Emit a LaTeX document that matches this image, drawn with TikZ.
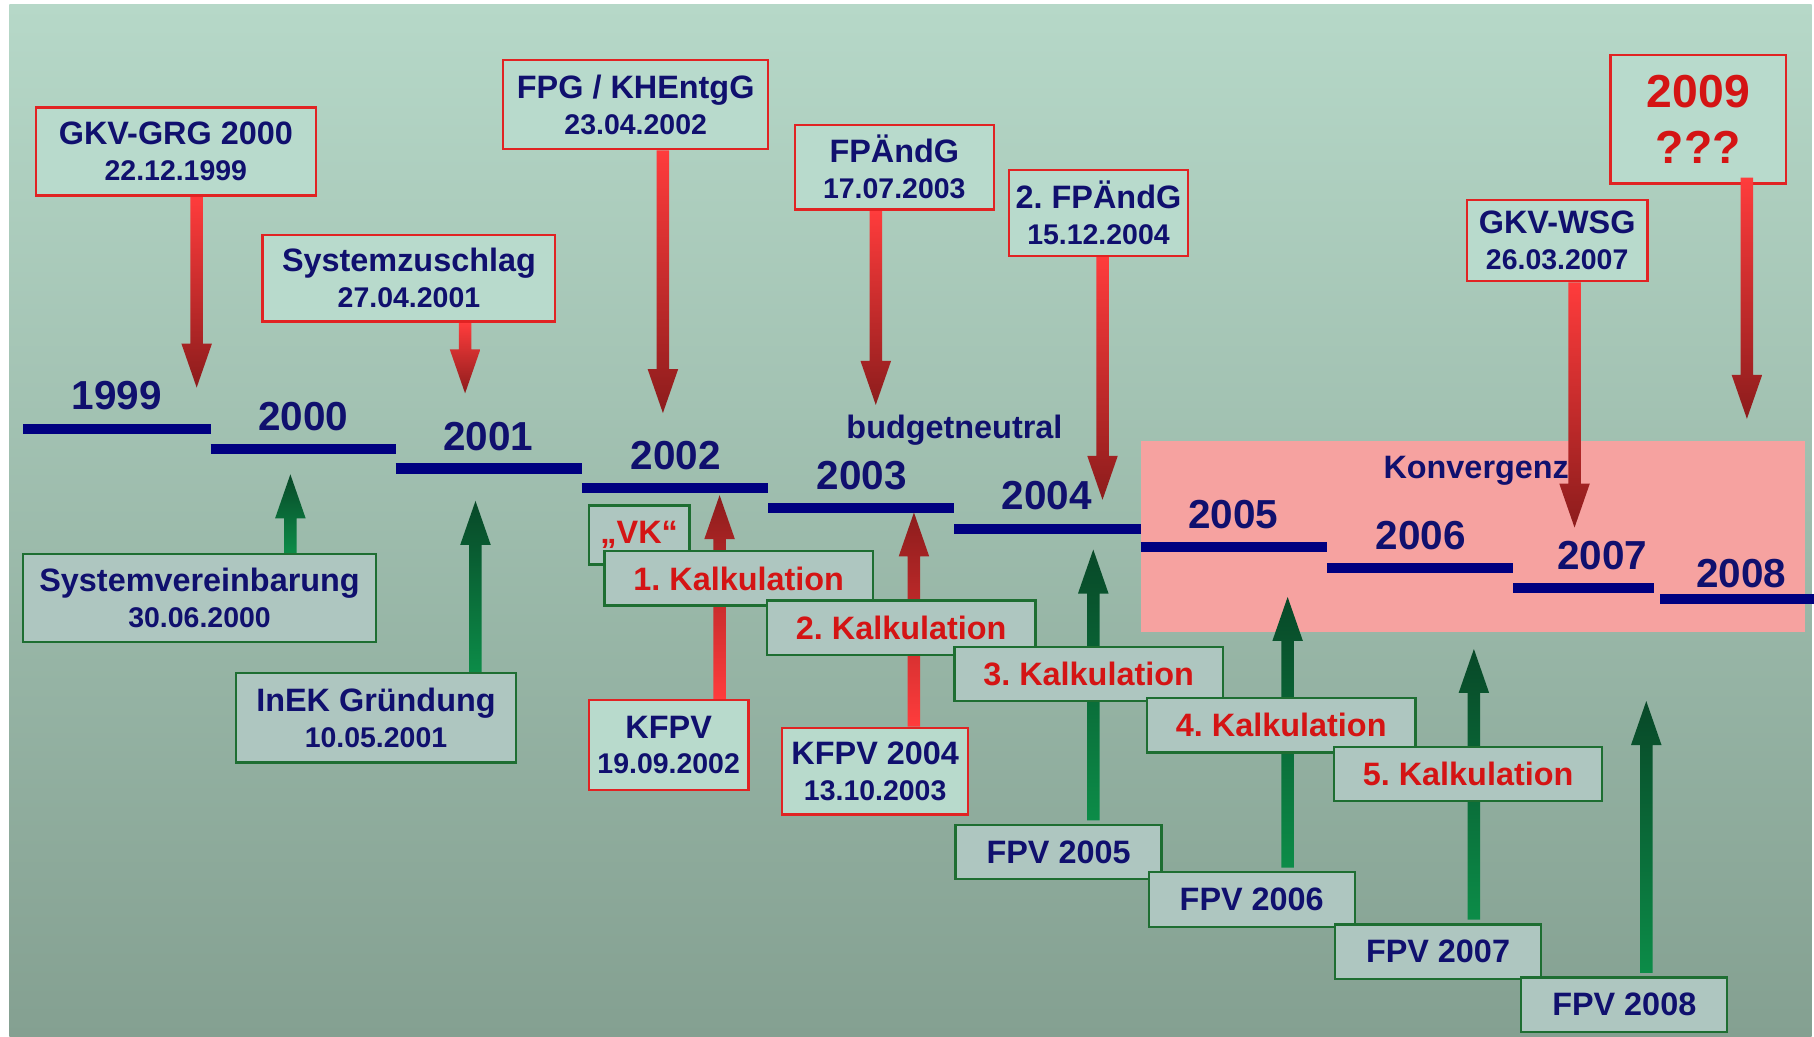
\documentclass[tikz,border=0pt]{standalone}
\usepackage{fontspec}
\setmainfont{Liberation Sans}
\usetikzlibrary{calc}
\frenchspacing

\definecolor{navytext}{RGB}{16,16,110}
\definecolor{barblue}{RGB}{0,0,128}
\definecolor{redtext}{RGB}{212,20,20}
\definecolor{redline}{RGB}{225,35,35}
\definecolor{greenline}{RGB}{30,110,50}
\definecolor{bgtop}{RGB}{182,216,200}
\definecolor{bgbottom}{RGB}{132,160,145}
\definecolor{fillup}{RGB}{184,218,204}
\definecolor{filldown}{RGB}{174,198,192}
\definecolor{konvpink}{RGB}{246,162,160}
\definecolor{redA}{RGB}{255,60,60}
\definecolor{redB}{RGB}{140,28,28}
\definecolor{greenA}{RGB}{12,140,72}
\definecolor{greenB}{RGB}{8,72,40}

\pgfdeclarelayer{backdrop}
\pgfdeclarelayer{arrowlayer}
\pgfsetlayers{backdrop,arrowlayer,main}

\newcommand{\datetext}[1]{{\fontsize{12.3}{15.5}\selectfont #1}}
%% fat vertical arrows: shading, start, tip
\newcommand{\fatdown}[3]{\shade[#1] let \p1=(#2), \p2=(#3) in
  (\x2-2.7pt,\y1) -- (\x2+2.7pt,\y1) -- (\x2+2.7pt,\y2+19pt) -- (\x2+6.6pt,\y2+19pt)
  -- (\x2,\y2) -- (\x2-6.6pt,\y2+19pt) -- (\x2-2.7pt,\y2+19pt) -- cycle;}
\newcommand{\fatup}[3]{\shade[#1] let \p1=(#2), \p2=(#3) in
  (\x2-2.7pt,\y1) -- (\x2+2.7pt,\y1) -- (\x2+2.7pt,\y2-19pt) -- (\x2+6.6pt,\y2-19pt)
  -- (\x2,\y2) -- (\x2-6.6pt,\y2-19pt) -- (\x2-2.7pt,\y2-19pt) -- cycle;}

\begin{document}
\begin{tikzpicture}
[x=0.5pt,y=-0.5pt,
  redBox/.style={draw=redline,line width=1pt,fill=fillup,text=navytext,
    align=center,inner sep=0pt,font=\fontsize{14}{15.5}\selectfont\bfseries},%
  greenBox/.style={redBox,draw=greenline,fill=filldown},%
  kalkBox/.style={greenBox,text=redtext,minimum width=116pt,minimum height=23.5pt},%
  fpvBox/.style={greenBox,minimum width=89pt,minimum height=23.5pt},%
  yearLabel/.style={text=navytext,font=\fontsize{17.5}{20}\selectfont\bfseries},%
  noteLabel/.style={text=navytext,font=\fontsize{14}{16}\selectfont\bfseries},%
  redDown/.style={top color=redA,bottom color=redB},%
  redUp/.style={top color=redB,bottom color=redA},%
  greenUp/.style={top color=greenB,bottom color=greenA}]
\useasboundingbox (0,0) rectangle (1568,896);
\begin{pgfonlayer}{backdrop}
\fill[white] (0,0) rectangle (1568,896);
\shade[top color=bgtop,bottom color=bgbottom] (8,4) rectangle (1566,896);
\fill[konvpink] (986,381) rectangle (1560,546);
\end{pgfonlayer}
%% years
\foreach \yr/\xa/\xb/\y/\lx/\ly in {1999/20/182/371/101/342, 2000/182/342/388/262/360,
  2001/342/503/405/422/377, 2002/503/664/422/584/394, 2003/664/825/439/745/411,
  2004/825/986/457/905/428, 2005/986/1147/473/1066/445, 2006/1147/1308/491/1228/463,
  2007/1308/1430/508/1385/480, 2008/1435/1568/518/1505/496}
{
  \draw[barblue,line width=4.5pt] (\xa,\y) -- (\xb,\y);
  \node (y\yr) at (\lx,\ly) [yearLabel] {\yr};
}
\node (budget) at (825,372) [noteLabel] {budgetneutral};
\node (konv) at (1276,407) [noteLabel] {Konvergenz};
%% laws above the time line
\node (gkv) at (152,131) [redBox,minimum width=121pt,minimum height=38pt] {GKV-GRG 2000\\\datetext{22.12.1999}};
\node (syszu) at (353.5,240.5) [redBox,minimum width=126.5pt,minimum height=37.5pt] {Systemzuschlag\\\datetext{27.04.2001}};
\node (fpg) at (549.5,90.5) [redBox,minimum width=114.5pt,minimum height=38.5pt] {FPG / KHEntgG\\\datetext{23.04.2002}};
\node (fpaendg) at (773,144.5) [redBox,minimum width=86pt,minimum height=36.5pt] {FPÄndG\\\datetext{17.07.2003}};
\node (fpaendgii) at (949.5,184) [redBox,minimum width=77.5pt,minimum height=37pt] {2. FPÄndG\\\datetext{15.12.2004}};
\node (wsg) at (1346,208) [redBox,minimum width=78pt,minimum height=35pt] {GKV-WSG\\\datetext{26.03.2007}};
\node (open) at (1468,103) [redBox,minimum width=76pt,minimum height=55.5pt,text=redtext,
  font=\fontsize{20}{24}\selectfont\bfseries] {2009\\???};
%% agreements below the time line
\node (sysver) at (172.5,517) [greenBox,minimum width=152.5pt,minimum height=38pt] {Systemvereinbarung\\\datetext{30.06.2000}};
\node (inek) at (325,620.5) [greenBox,minimum width=121pt,minimum height=38.5pt] {InEK Gründung\\\datetext{10.05.2001}};
\node (kfpv) at (578,644) [redBox,minimum width=69pt,minimum height=39pt] {KFPV\\\datetext{19.09.2002}};
\node (kfpvii) at (756.5,666.5) [redBox,minimum width=80.5pt,minimum height=37.5pt] {KFPV 2004\\\datetext{13.10.2003}};
\node (vk) at (552.5,462.5) [greenBox,text=redtext,minimum width=43.5pt,minimum height=25.5pt] {„VK“};
\foreach \i/\x/\y in {1/638.5/500, 2/779/542.5, 3/941/582.5, 4/1107.5/627, 5/1269/669}
{
  \node (kalk\i) at (\x,\y) [kalkBox] {\i. Kalkulation};
}
\foreach \yr/\x/\y in {2005/915/736.5, 2006/1082/777.5, 2007/1243/822.5, 2008/1404/868.5}
{
  \node (fpv\yr) at (\x,\y) [fpvBox] {FPV \yr};
}
%% arrows
\begin{pgfonlayer}{arrowlayer}
\coordinate (tipGkv) at (170,335);
\coordinate (tipSyszu) at (402,340);
\coordinate (tipFpg) at (573,357);
\coordinate (tipFpaendg) at (757,350);
\coordinate (tipFpaendgii) at (953,432);
\coordinate (tipWsg) at (1361,456);
\coordinate (tipSysver) at (251,410);
\coordinate (tipInek) at (411,433);
\coordinate (tipKfpv) at (622,428);
\coordinate (tipKfpvii) at (790,443);
\fatdown{redDown}{gkv.south}{tipGkv}
\fatdown{redDown}{syszu.south}{tipSyszu}
\fatdown{redDown}{fpg.south}{tipFpg}
\fatdown{redDown}{fpaendg.south}{tipFpaendg}
\fatdown{redDown}{fpaendgii.south}{tipFpaendgii}
\fatdown{redDown}{wsg.south}{tipWsg}
\fatup{greenUp}{sysver.north}{tipSysver}
\fatup{greenUp}{inek.north}{tipInek}
\fatup{redUp}{kfpv.north}{tipKfpv}
\fatup{redUp}{kfpvii.north}{tipKfpvii}
\foreach \yr/\x/\y in {2005/945/475, 2006/1113/516, 2007/1274/561, 2008/1423/606}
{
  \coordinate (tip\yr) at (\x,\y);
  \fatup{greenUp}{[yshift=1.5pt]fpv\yr.north}{tip\yr}
}
\end{pgfonlayer}
\coordinate (tipOpen) at (1510,362);
\fatdown{redDown}{[yshift=3pt]open.south}{tipOpen}
\end{tikzpicture}
\end{document}
